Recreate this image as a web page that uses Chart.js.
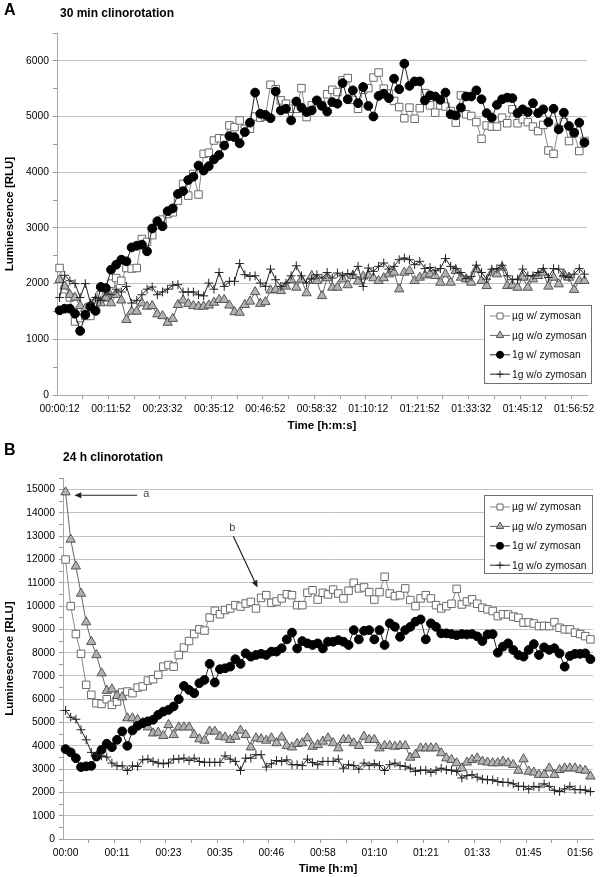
<!DOCTYPE html>
<html><head><meta charset="utf-8">
<script src="https://cdn.jsdelivr.net/npm/chart.js@4.4.1/dist/chart.umd.min.js"></script>
<style>
html,body{margin:0;padding:0;background:#fff;}
body{width:600px;height:877px;position:relative;overflow:hidden;font-family:"Liberation Sans",Arial,sans-serif;}
.lbl{position:absolute;font-weight:bold;color:#000;white-space:nowrap;line-height:1;}
#wrapA{position:absolute;left:0;top:0;width:600px;height:440px;}
#wrapB{position:absolute;left:0;top:440px;width:600px;height:437px;}
</style></head><body>
<div id="wrapA"><canvas id="chartA" width="600" height="440"></canvas></div>
<div id="wrapB"><canvas id="chartB" width="600" height="437"></canvas></div>
<div class="lbl" style="left:4px;top:2px;font-size:16px;">A</div>
<div class="lbl" style="left:60px;top:7px;font-size:12px;">30 min clinorotation</div>
<div class="lbl" style="left:4px;top:442px;font-size:16px;">B</div>
<div class="lbl" style="left:63px;top:451px;font-size:12px;">24 h clinorotation</div>
<script>
// ---------- DATA ----------
const seriesNames = ['µg w/ zymosan', 'µg w/o zymosan', '1g w/ zymosan', '1g w/o zymosan'];

const tickLabelsA = ['00:00:12','00:11:52','00:23:32','00:35:12','00:46:52','00:58:32','01:10:12','01:21:52','01:33:32','01:45:12','01:56:52'];
const tickLabelsB = ['00:00','00:11','00:23','00:35','00:46','00:58','01:10','01:21','01:33','01:45','01:56'];

const yTicksA = [0,500,1000,1500,2000,2500,3000,3500,4000,4500,5000,5500,6000,6500];
const yTicksB = [0,500,1000,1500,2000,2500,3000,3500,4000,4500,5000,5500,6000,6500,7000,7500,8000,8500,9000,9500,10000,10500,11000,11500,12000,12500,13000,13500,14000,14500,15000,15500];

// Panel A (30 min clinorotation)
const ugWithA = [2280,1900,1750,1320,1380,1420,1420,1650,1800,1750,
 2000,2100,2050,2280,2270,2280,2800,2750,2870,3050,
 3150,3250,3280,3490,3790,3580,3970,3600,4330,4350,
 4570,4610,4600,4840,4810,4930,4780,4780,5000,4980,
 5000,5570,5490,5290,5230,5140,5140,5510,4990,5200,
 5260,5200,5400,5480,5440,5650,5690,5300,5140,5480,
 5510,5700,5790,5500,5410,5280,5170,4970,5160,4960,
 5150,5420,5200,5070,5200,5180,5100,4890,5380,5040,
 5010,4900,4600,4840,4820,4820,4980,4880,5130,4880,
 4950,4900,4820,4740,4850,4390,4330,4800,4900,4560,
 4700,4380,4560];
const ugWithoutA = [2070,1950,1800,1750,1600,1550,1600,1700,1650,1750,
 1650,1800,1700,1350,1500,1500,1650,1590,1600,1450,
 1420,1300,1370,1620,1700,1640,1600,1590,1590,1610,
 1660,1710,1710,1610,1490,1480,1620,1680,1850,1640,
 1670,1880,1890,1870,1950,2070,1930,2075,1830,2140,
 2050,1780,2100,1930,1930,2080,1975,2140,2040,2130,
 2150,2100,2050,2100,2170,2200,1900,2200,2230,2050,
 2110,2150,2170,2140,2020,2170,2020,2230,2110,2080,
 2020,2260,2050,1960,2200,2170,2290,1960,1970,1930,
 2110,1930,2080,2140,2200,1950,2110,1990,2170,2110,
 1890,2050,2050];
const g1WithA = [1520,1550,1550,1460,1150,1440,1590,1510,1940,1920,
 2250,2340,2430,2400,2650,2680,2700,2580,2990,3120,
 3030,3300,3350,3610,3660,3860,3920,4120,4030,4110,
 4230,4310,4480,4650,4630,4520,4720,4890,5430,5050,
 5030,4970,5450,5110,5140,4930,5270,5160,5080,5110,
 5290,5190,5090,5260,5230,5600,5310,5470,5240,5530,
 5190,5000,5370,5410,5330,5680,5490,5950,5550,5630,
 5630,5290,5380,5360,5300,5430,5040,5020,5160,5360,
 5360,5470,5310,5060,4980,5210,5310,5340,5330,5060,
 5130,5080,5240,5060,5130,4900,5140,4770,5070,4830,
 4710,4890,4530];
const g1WithoutA = [1750,2150,2050,2000,1750,2000,1650,1750,1700,1850,
 1800,1900,1850,1950,1650,1700,1800,1900,1940,1800,
 1850,1900,1970,1980,1850,1850,1850,1800,1780,2010,
 1900,2200,1950,2040,2040,2360,2160,2130,2140,2010,
 1950,2260,2070,1950,2010,2140,2320,2140,2010,2080,
 2160,2100,2200,2100,2190,2140,2180,2160,2310,1950,
 2280,2220,2310,2370,2260,2310,2430,2460,2430,2340,
 2400,2270,2290,2230,2270,2450,2310,2270,2200,2090,
 2130,2330,2200,2080,2260,2270,2330,2140,2070,2080,
 2260,2140,2140,2200,2270,2110,2270,2260,2140,2110,
 2170,2270,2170];

// Panel B (24 h clinorotation)
const ugWithB = [12000,10000,8800,7950,6620,6190,5830,5800,6000,5760,
 5900,6290,6330,6260,6500,6550,6800,6860,7050,7400,
 7470,7400,7900,8220,8500,8800,9000,8950,9510,9800,
 9650,9830,9900,10040,9980,10110,10180,9900,10350,10470,
 10140,10200,10330,10510,10470,10040,10040,10570,10680,10280,
 10570,10500,10710,10540,10330,10660,11000,10760,10800,10600,
 10280,10600,11260,10540,10430,10470,10760,10260,10000,10330,
 10470,10330,10040,9900,10000,10100,10740,10070,10200,10290,
 10100,9930,9860,9790,9570,9650,9640,9550,9500,9290,
 9300,9250,9140,9150,9140,9310,9070,9000,9000,8860,
 8800,8710,8570];
const ugWithoutB = [14890,12860,11710,10540,9310,8470,7900,7120,6370,6430,
 6150,6090,5190,5190,5120,5000,4800,4540,4570,4430,
 4900,4470,4800,4800,4800,4470,4290,4230,4620,4620,
 4400,4370,4260,4400,4660,4470,3940,4330,4290,4230,
 4330,4120,4370,4000,3940,4090,4120,4330,3970,4040,
 4190,4330,4120,3900,4260,4260,4120,4000,4400,4260,
 4260,3900,4000,4000,3970,4000,4000,3500,3620,3900,
 3900,3900,3900,3690,3470,3400,3260,3040,3290,3400,
 3470,3330,3290,3260,3260,3330,3260,3190,2940,3430,
 2900,2860,2760,2760,3040,2760,2970,3040,3040,3040,
 2970,2940,2690];
const g1WithB = [3860,3720,3470,3090,3120,3140,3540,3830,4090,3940,
 4260,4620,4000,4660,4860,4970,5050,5120,5330,5470,
 5540,5690,6000,6570,6400,6260,6690,6830,7520,6720,
 7290,7330,7400,7720,7520,7970,7830,7900,7950,7900,
 8045,8045,8190,8570,8860,8180,8500,8400,8330,8400,
 8180,8470,8470,8540,8470,8330,8970,8570,8940,8970,
 8570,8970,8330,9260,9110,8680,8970,9110,9330,9430,
 8570,9260,9110,8830,8830,8800,8750,8800,8780,8800,
 8700,8500,8780,8800,8000,8260,8400,8120,7900,7830,
 8120,8370,7900,8230,8120,8190,7970,7400,7860,7950,
 7950,7970,7720];
const g1WithoutB = [5520,5230,5140,4690,4260,3720,3620,3570,3520,3260,
 3140,3140,2940,3140,3120,3400,3430,3330,3260,3230,
 3260,3430,3430,3470,3370,3470,3330,3290,3290,3290,
 3290,3570,3430,3330,2940,3470,3470,3620,3620,3090,
 3230,3370,3330,3400,3190,3190,3150,3430,3280,3190,
 3330,3330,3330,3430,3040,3190,3150,3000,3260,3150,
 3230,3150,2940,3190,3260,3150,3120,3040,2900,2950,
 2950,2860,2950,3040,2970,2950,2900,2620,2720,2760,
 2650,2570,2540,2540,2470,2430,2430,2370,2260,2260,
 2140,2260,2230,2370,2260,2090,2040,2150,2260,2120,
 2120,2100,2040];

// ---------- STYLE ----------
const FONT = '"Liberation Sans", Arial, sans-serif';
Chart.defaults.font.family = FONT;
Chart.defaults.color = '#000';

const styles = [
  {pointStyle:'rect', radius:5.3, bg:'#ffffff', border:'#6a6a6a', line:'#8a8a8a', order:3},
  {pointStyle:'triangle', radius:5.4, bg:'#b2b2b2', border:'#555555', line:'#666666', order:2},
  {pointStyle:'circle', radius:4.4, bg:'#000000', border:'#000000', line:'#222222', order:1},
  {pointStyle:'cross', radius:4.4, bg:'#000000', border:'#222222', line:'#222222', order:0}
];

function drawMarker(ctx, st, x, y, r) {
  ctx.beginPath();
  if (st.pointStyle === 'rect') { const s = r * Math.SQRT1_2; ctx.rect(x - s, y - s, 2 * s, 2 * s); }
  else if (st.pointStyle === 'triangle') { ctx.moveTo(x, y - r); ctx.lineTo(x + r * 0.866, y + r * 0.5); ctx.lineTo(x - r * 0.866, y + r * 0.5); ctx.closePath(); }
  else if (st.pointStyle === 'circle') { ctx.arc(x, y, r, 0, Math.PI * 2); }
  else { ctx.moveTo(x - r, y); ctx.lineTo(x + r, y); ctx.moveTo(x, y - r); ctx.lineTo(x, y + r); }
  if (st.pointStyle !== 'cross') { ctx.fillStyle = st.bg; ctx.fill(); }
  ctx.strokeStyle = st.border; ctx.lineWidth = 1; ctx.stroke();
}

const boxLegend = {
  id: 'boxLegend',
  afterDraw(chart, args, o) {
    if (!o || !o.box) return;
    const ctx = chart.ctx;
    const b = o.box;
    ctx.save();
    ctx.fillStyle = '#fff';
    ctx.fillRect(b.x, b.y, b.w, b.h);
    ctx.strokeStyle = '#6f6f6f'; ctx.lineWidth = 1;
    ctx.strokeRect(b.x + 0.5, b.y + 0.5, b.w, b.h);
    ctx.font = '10.3px ' + FONT;
    ctx.textBaseline = 'middle'; ctx.textAlign = 'left';
    seriesNames.forEach((name, k) => {
      const y = b.y + b.first + k * b.step;
      const st = styles[k];
      ctx.beginPath(); ctx.moveTo(b.x + 6, y); ctx.lineTo(b.x + 26, y);
      ctx.strokeStyle = st.line; ctx.lineWidth = 1; ctx.stroke();
      drawMarker(ctx, st, b.x + 16, y, st.radius * 0.8);
      ctx.fillStyle = '#111';
      ctx.fillText(name, b.x + 28, y + 0.5);
    });
    ctx.restore();
  }
};

const arrows = {
  id: 'arrows',
  afterDraw(chart, args, o) {
    if (!o || !o.items) return;
    const ctx = chart.ctx, xs = chart.scales.x, ys = chart.scales.y;
    ctx.save();
    o.items.forEach(a => {
      const tx = xs.getPixelForValue(a.tail[0]), ty = ys.getPixelForValue(a.tail[1]);
      const hx = xs.getPixelForValue(a.head[0]), hy = ys.getPixelForValue(a.head[1]);
      const ang = Math.atan2(hy - ty, hx - tx);
      const L = 7, W = 3;
      const bx = hx - L * Math.cos(ang), by = hy - L * Math.sin(ang);
      ctx.strokeStyle = '#222'; ctx.fillStyle = '#222'; ctx.lineWidth = 1.2;
      ctx.beginPath(); ctx.moveTo(tx, ty); ctx.lineTo(bx, by); ctx.stroke();
      ctx.beginPath();
      ctx.moveTo(hx, hy);
      ctx.lineTo(bx + W * Math.sin(ang), by - W * Math.cos(ang));
      ctx.lineTo(bx - W * Math.sin(ang), by + W * Math.cos(ang));
      ctx.closePath(); ctx.fill();
      ctx.fillStyle = '#444';
      ctx.font = '11px ' + FONT; ctx.textAlign = 'center'; ctx.textBaseline = 'middle';
      ctx.fillText(a.text, xs.getPixelForValue(a.label[0]), ys.getPixelForValue(a.label[1]));
    });
    ctx.restore();
  }
};

function makeChart(id, series, cfg) {
  const n = series[0].length;
  const labelTicks = cfg.tickLabels.map((t, k) => k * 10);
  const minorTicks = [];
  for (let v = 4.5; v < n; v += 5) minorTicks.push(v);
  const xTicks = labelTicks.concat(minorTicks).sort((a, b) => a - b);
  const datasets = series.map((vals, k) => {
    const st = styles[k];
    return {
      label: seriesNames[k],
      data: vals.map((v, i) => ({x: i, y: v})),
      borderColor: st.line, borderWidth: 1,
      pointStyle: st.pointStyle, pointRadius: st.radius,
      pointBackgroundColor: st.bg, pointBorderColor: st.border, pointBorderWidth: 1,
      tension: 0, fill: false, order: st.order, clip: false
    };
  });
  return new Chart(document.getElementById(id), {
    type: 'line',
    data: {datasets},
    plugins: [boxLegend, arrows],
    options: {
      responsive: false, animation: false, events: [],
      layout: {padding: cfg.padding},
      plugins: {
        legend: {display: false}, tooltip: {enabled: false}, title: {display: false},
        boxLegend: {box: cfg.legend},
        arrows: {items: cfg.arrows || []}
      },
      scales: {
        x: {
          type: 'linear', min: -0.5, max: n - 0.5,
          afterBuildTicks: s => { s.ticks = xTicks.map(v => ({value: v})); },
          afterFit: s => { s.height = cfg.xHeight; s.paddingLeft = 0; s.paddingRight = 0; },
          ticks: {
            autoSkip: false, maxRotation: 0, minRotation: 0, padding: 3.5,
            font: {size: 10.3, family: FONT}, color: '#000',
            callback: v => (v % 10 === 0 ? cfg.tickLabels[v / 10] : '')
          },
          grid: {
            drawOnChartArea: false, drawTicks: true, tickLength: 4,
            tickColor: c => (c.tick && c.tick.value % 10 === 0 ? 'rgba(0,0,0,0)' : '#9a9a9a')
          },
          border: {display: true, color: '#a8a8a8', width: 1},
          title: {display: true, text: cfg.xTitle, color: '#000',
            font: {size: 11.5, weight: 'bold', family: FONT}, padding: {top: 0, bottom: cfg.xTitlePad}}
        },
        y: {
          type: 'linear', min: 0, max: cfg.yMax,
          afterBuildTicks: s => { s.ticks = cfg.yTicks.map(v => ({value: v})); },
          afterFit: s => { s.width = cfg.yWidth; s.paddingTop = 0; s.paddingBottom = 0; },
          ticks: {
            autoSkip: false, padding: 4, font: {size: 10.3, family: FONT}, color: '#000',
            callback: v => (v % 1000 === 0 ? String(v) : '')
          },
          grid: {
            drawTicks: true, tickLength: 4, lineWidth: 1,
            color: c => (c.tick && c.tick.value % 1000 === 0 && c.tick.value < cfg.yMax - 500 + 1 && c.tick.value > 0 ? '#c2c2c2' : 'rgba(0,0,0,0)'),
            tickColor: '#9a9a9a'
          },
          border: {display: true, color: '#a8a8a8', width: 1},
          title: {display: true, text: 'Luminescence [RLU]', color: '#000',
            font: {size: 11.5, weight: 'bold', family: FONT}, padding: {top: 3, bottom: 0}}
        }
      }
    }
  });
}

makeChart('chartA', [ugWithA, ugWithoutA, g1WithA, g1WithoutA], {
  tickLabels: tickLabelsA, yTicks: yTicksA, yMax: 6500,
  xTitle: 'Time [h:m:s]', xHeight: 45, xTitlePad: 7.4, yWidth: 57,
  padding: {left: 0, right: 13, top: 33, bottom: 0},
  legend: {x: 484, y: 305, w: 107, h: 78, first: 11, step: 19.4}
});

makeChart('chartB', [ugWithB, ugWithoutB, g1WithB, g1WithoutB], {
  tickLabels: tickLabelsB, yTicks: yTicksB, yMax: 15500,
  xTitle: 'Time [h:m]', xHeight: 38, xTitlePad: 1, yWidth: 63,
  padding: {left: 0, right: 7, top: 38, bottom: 0},
  legend: {x: 484, y: 55, w: 108, h: 78, first: 12, step: 19.4},
  arrows: [
    {text: 'a', tail: [13.9, 14760], head: [1.7, 14760], label: [15.7, 14800]},
    {text: 'b', tail: [32.6, 13000], head: [37.3, 10800], label: [32.4, 13340]}
  ]
});
</script>
</body></html>
